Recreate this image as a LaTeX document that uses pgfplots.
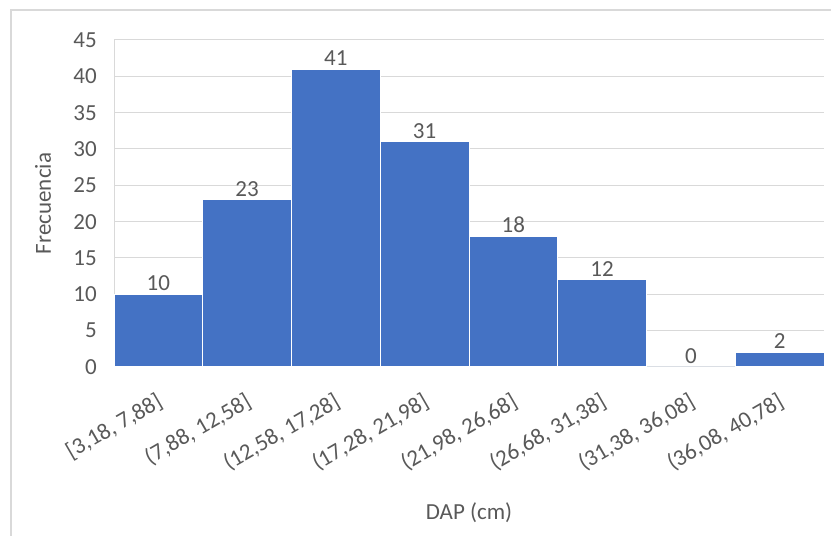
\documentclass[border=0pt]{standalone}
\usepackage{pgfplots}
\pgfplotsset{compat=1.18}
\usepackage{fontspec}
\setmainfont{Carlito}
\definecolor{barblue}{HTML}{4472C4}
\definecolor{txtgray}{HTML}{595959}
\definecolor{gridgray}{HTML}{D9D9D9}
\begin{document}
\begin{tikzpicture}[x=1bp,y=1bp,font=\fontsize{23bp}{28bp}\selectfont]
\useasboundingbox (0,0) rectangle (831,536);
% chart area frame
\draw[gridgray, line width=1.5bp] (11,0) -- (11,526) -- (831,526);
\begin{axis}[
  at={(114bp,169bp)}, anchor=south west,
  scale only axis, width=710bp, height=327bp,
  xmin=0, xmax=8, ymin=0, ymax=45,
  enlargelimits=false, clip=false,
  /pgf/number format/assume math mode=true,
  ytick={0,5,...,45},
  xtick={0.5,1.5,2.5,3.5,4.5,5.5,6.5,7.5},
  xticklabels={{[3,18, 7,88]},{(7,88, 12,58]},{(12,58, 17,28]},{(17,28, 21,98]},
               {(21,98, 26,68]},{(26,68, 31,38]},{(31,38, 36,08]},{(36,08, 40,78]}},
  major tick length=0pt,
  axis x line*=bottom, axis y line*=left,
  axis line style={gridgray, line width=1bp, -},
  ymajorgrids, grid style={gridgray, line width=1bp},
  tick label style={text=txtgray},
  yticklabel style={inner sep=0pt, anchor=east, xshift=-17bp},
  xticklabel style={inner sep=0pt, anchor=east, xshift=2bp, yshift=-33bp, rotate=30},
  ylabel={Frecuencia},
  ylabel style={at={(axis description cs:-0.1,0.5)}, anchor=center, text=txtgray},
  xlabel={DAP (cm)},
  xlabel style={at={(axis description cs:0.5,-0.4465)}, anchor=center, text=txtgray},
  ybar, bar width=1,
  nodes near coords,
  every node near coord/.append style={text=txtgray, anchor=south, inner sep=3bp},
]
\addplot[fill=barblue, draw=white, line width=1bp] coordinates {
  (0.5,10) (1.5,23) (2.5,41) (3.5,31) (4.5,18) (5.5,12) (6.5,0) (7.5,2)
};
\end{axis}
\end{tikzpicture}
\end{document}
